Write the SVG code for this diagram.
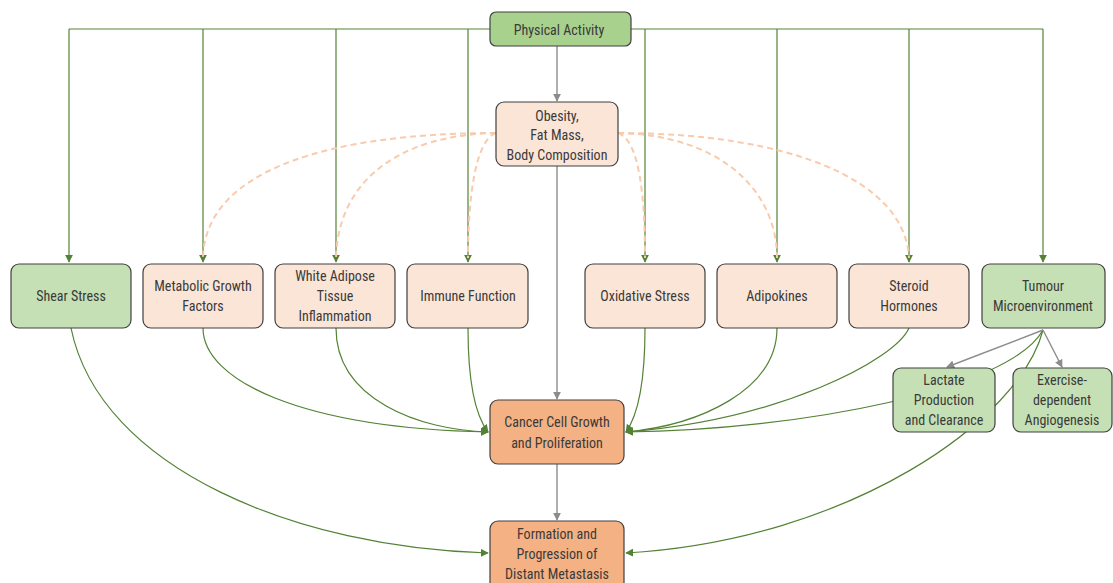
<svg xmlns="http://www.w3.org/2000/svg" width="1113" height="583" viewBox="0 0 1113 583">
<defs>
<marker id="ag" viewBox="0 0 10 10" refX="9" refY="5" markerWidth="8" markerHeight="8" markerUnits="userSpaceOnUse" orient="auto"><path d="M0,0 L10,5 L0,10 z" fill="#548235"/></marker>
<marker id="ay" viewBox="0 0 10 10" refX="9" refY="5" markerWidth="8" markerHeight="8" markerUnits="userSpaceOnUse" orient="auto"><path d="M0,0 L10,5 L0,10 z" fill="#8c8c8c"/></marker>
<style>
.b{stroke:#404040;stroke-width:1.2}
.pa{fill:#A9D18E}
.gr{fill:#C5E0B4}
.pe{fill:#FBE5D6}
.or{fill:#F4B183}
text{font-family:"Liberation Sans Narrow","Arial Narrow","Roboto Condensed","DejaVu Sans Condensed","Liberation Sans",sans-serif;font-size:14px;fill:#3a3a3a;text-anchor:middle}
.g{fill:none;stroke:#548235;stroke-width:1.2}
.y{fill:none;stroke:#8c8c8c;stroke-width:1.4}
.d{fill:none;stroke:#F8CBAD;stroke-width:2;stroke-dasharray:6 4}
</style>
</defs>
<g id="connectors">
<path class="g" d="M69,29 H1043"/>
<path class="g" d="M69,29 V262" marker-end="url(#ag)"/>
<path class="g" d="M203,29 V262" marker-end="url(#ag)"/>
<path class="g" d="M336,29 V262" marker-end="url(#ag)"/>
<path class="g" d="M468,29 V262" marker-end="url(#ag)"/>
<path class="g" d="M645,29 V262" marker-end="url(#ag)"/>
<path class="g" d="M777,29 V262" marker-end="url(#ag)"/>
<path class="g" d="M909,29 V262" marker-end="url(#ag)"/>
<path class="g" d="M1043,29 V262" marker-end="url(#ag)"/>
<path class="y" d="M557,46 V101" marker-end="url(#ay)"/>
<path class="y" d="M557,166 V399" marker-end="url(#ay)"/>
<path class="y" d="M557,464 V520" marker-end="url(#ay)"/>
<path class="d" d="M496,133 C330,133 205,170 203,258"/>
<path class="d" d="M496,133 C400,135 338,180 336,258"/>
<path class="d" d="M496,133 C475,140 468,200 468,258"/>
<path class="d" d="M618,133 C640,140 645,200 645,258"/>
<path class="d" d="M618,133 C720,135 777,190 777,258"/>
<path class="d" d="M618,133 C790,133 905,180 909,258"/>
<path class="g" d="M71,328 C100,470 300,548 488,553" marker-end="url(#ag)"/>
<path class="g" d="M203,328 C203,380 300,428 488,432" marker-end="url(#ag)"/>
<path class="g" d="M336,328 C336,400 420,430 488,432" marker-end="url(#ag)"/>
<path class="g" d="M468,328 C468,380 475,415 488,432" marker-end="url(#ag)"/>
<path class="g" d="M645,328 C645,380 638,415 626,432" marker-end="url(#ag)"/>
<path class="g" d="M777,328 C777,390 700,425 626,432" marker-end="url(#ag)"/>
<path class="g" d="M909,328 C895,360 780,420 626,432" marker-end="url(#ag)"/>
<path class="g" d="M1043,330 C1010,390 800,430 626,432" marker-end="url(#ag)"/>
<path class="g" d="M1043,330 C1020,420 850,540 626,553" marker-end="url(#ag)"/>
<path class="y" d="M1043,330 L947,367" marker-end="url(#ay)"/>
<path class="y" d="M1043,330 L1062,367" marker-end="url(#ay)"/>
</g>
<g id="physical-activity"><rect class="b pa" x="490" y="12" width="141" height="34" rx="6"/><text x="559" y="35">Physical Activity</text></g>
<g id="obesity"><rect class="b pe" x="496" y="102" width="122" height="64" rx="8"/><text x="557" y="121">Obesity,</text><text x="557" y="140">Fat Mass,</text><text x="557" y="160">Body Composition</text></g>
<g id="shear-stress"><rect class="b gr" x="11" y="264" width="120" height="64" rx="8"/><text x="71" y="301">Shear Stress</text></g>
<g id="metabolic"><rect class="b pe" x="143" y="264" width="120" height="64" rx="8"/><text x="203" y="291">Metabolic Growth</text><text x="203" y="311">Factors</text></g>
<g id="white-adipose"><rect class="b pe" x="275" y="264" width="120" height="64" rx="8"/><text x="335" y="281">White Adipose</text><text x="335" y="301">Tissue</text><text x="335" y="321">Inflammation</text></g>
<g id="immune"><rect class="b pe" x="407" y="264" width="121" height="64" rx="8"/><text x="468" y="301">Immune Function</text></g>
<g id="oxidative"><rect class="b pe" x="585" y="264" width="120" height="64" rx="8"/><text x="645" y="301">Oxidative Stress</text></g>
<g id="adipokines"><rect class="b pe" x="717" y="264" width="120" height="64" rx="8"/><text x="777" y="301">Adipokines</text></g>
<g id="steroid"><rect class="b pe" x="849" y="264" width="120" height="64" rx="8"/><text x="909" y="291">Steroid</text><text x="909" y="311">Hormones</text></g>
<g id="tumour"><rect class="b gr" x="982" y="264" width="123" height="64" rx="8"/><text x="1043" y="291">Tumour</text><text x="1043" y="311">Microenvironment</text></g>
<g id="lactate"><rect class="b gr" x="893" y="368" width="102" height="64" rx="8"/><text x="944" y="385">Lactate</text><text x="944" y="405">Production</text><text x="944" y="425">and Clearance</text></g>
<g id="angiogenesis"><rect class="b gr" x="1013" y="368" width="99" height="64" rx="8"/><text x="1062" y="385">Exercise-</text><text x="1062" y="405">dependent</text><text x="1062" y="425">Angiogenesis</text></g>
<g id="cancer"><rect class="b or" x="490" y="400" width="134" height="64" rx="8"/><text x="557" y="427">Cancer Cell Growth</text><text x="557" y="448">and Proliferation</text></g>
<g id="metastasis"><rect class="b or" x="490" y="521" width="134" height="70" rx="8"/><text x="557" y="539">Formation and</text><text x="557" y="559">Progression of</text><text x="557" y="579">Distant Metastasis</text></g>
</svg>
